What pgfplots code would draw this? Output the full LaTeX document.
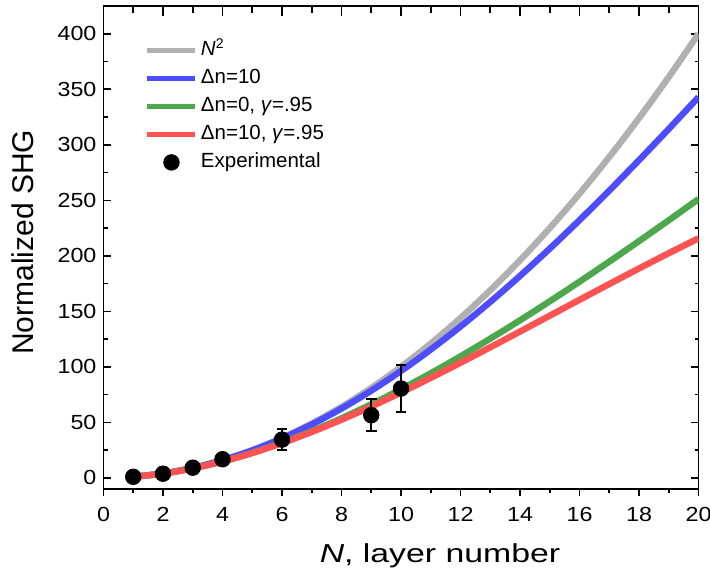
\documentclass[border=0pt]{standalone}
\usepackage{fontspec}
\setmainfont{Liberation Sans}
\newfontfamily\wideticks{Liberation Sans}[FakeStretch=1.14]
\newfontfamily\widelabel{Liberation Sans}[FakeStretch=1.3]
\usepackage{pgfplots}
\pgfplotsset{compat=1.18}
\definecolor{cgrey}{RGB}{176,176,176}
\definecolor{cblue}{RGB}{77,77,255}
\definecolor{cgreen}{RGB}{77,168,77}
\definecolor{cred}{RGB}{255,82,82}
\begin{document}
\begin{tikzpicture}
\begin{axis}[
  scale only axis, width=297.5pt, height=241.5pt,
  xmin=0, xmax=20, ymin=-10, ymax=425,
  xtick={0,2,...,20}, minor x tick num=1,
  ytick={0,50,...,400}, minor y tick num=1,
  xtick pos=lower, xtick align=outside,
  ytick pos=both, ytick align=inside,
  major tick length=3.6pt, minor tick length=2pt,
  axis line style={line width=0.9pt},
  every tick/.style={black, line width=0.8pt},
  /pgf/number format/assume math mode=true,
  tick label style={font=\wideticks\fontsize{10.2}{12}\selectfont},
  xticklabel style={yshift=-2pt},
  xlabel={\textit{N}, layer number},
  xlabel style={font=\widelabel\fontsize{13}{15}\selectfont, at={(axis description cs:0.5655,0)}, anchor=base, yshift=-36.5pt},
  ylabel={Normalized SHG},
  ylabel style={font=\fontsize{15}{18}\selectfont, at={(axis description cs:-0.118,0.511)}, anchor=base, rotate=0},
  legend style={at={(axis description cs:0.069,0.9306)}, anchor=north west, draw=none, fill=none, inner sep=0pt,
    font=\fontsize{10.25}{12}\selectfont, row sep=3.5pt,
    nodes={inner sep=0pt, text height=8pt, text depth=2.5pt},
    /tikz/every odd column/.append style={column sep=1.5pt}},
  legend cell align=left,
]
\addplot[cgrey, line width=3.2pt, smooth,
  legend image code/.code={\draw[cgrey,line width=2.5pt] (0pt,0pt) -- (24pt,0pt);}]
  coordinates {(1,1)(2,4)(3,9)(4,16)(5,25)(6,36)(7,49)(8,64)(9,81)(10,100)
  (11,121)(12,144)(13,169)(14,196)(15,225)(16,256)(17,289)(18,324)(19,361)(20,400)};
\addlegendentry{\textit{N}\textsuperscript{\fontsize{7}{8}\selectfont 2}}
\addplot[cblue, line width=3.2pt, smooth,
  legend image code/.code={\draw[cblue,line width=2.5pt] (0pt,0pt) -- (24pt,0pt);}]
  coordinates {(1,1.000)(2,3.996)(3,8.973)(4,15.909)(5,24.773)(6,35.524)(7,48.114)(8,62.483)(9,78.570)(10,96.298)
  (11,115.587)(12,136.35)(13,158.49)(14,181.91)(15,206.50)(16,232.15)(17,258.75)(18,286.16)(19,314.27)(20,342.95)};
\addlegendentry{Δn=10}
\addplot[cgreen, line width=3.2pt, smooth,
  legend image code/.code={\draw[cgreen,line width=2.5pt] (0pt,0pt) -- (24pt,0pt);}]
  coordinates {(1,1)(2,3.899)(3,8.554)(4,14.827)(5,22.592)(6,31.727)(7,42.120)(8,53.666)(9,66.263)(10,79.817)
  (11,94.242)(12,109.453)(13,125.375)(14,141.933)(15,159.060)(16,176.691)(17,194.769)(18,213.234)(19,232.039)(20,251.129)};
\addlegendentry{Δn=0, \textit{γ}=.95}
\addplot[cred, line width=3.2pt, smooth,
  legend image code/.code={\draw[cred,line width=2.5pt] (0pt,0pt) -- (24pt,0pt);}]
  coordinates {(1,1)(2,3.895)(3,8.528)(4,14.743)(5,22.387)(6,31.310)(7,41.361)(8,52.40)(9,64.282)(10,76.875)
  (11,90.046)(12,103.67)(13,117.63)(14,131.80)(15,146.08)(16,160.37)(17,174.58)(18,188.60)(19,202.36)(20,215.78)};
\addlegendentry{Δn=10, \textit{γ}=.95}
\addplot[black, only marks, mark=*, mark size=3.9pt,
  error bars/.cd, y dir=both, y explicit,
  error bar style={line width=1pt, black},
  error mark options={rotate=90, mark size=2.7pt, line width=1pt, black}]
  [legend image code/.code={\fill[black] (12pt,0pt) circle (3.9pt);}]
  coordinates {(1,1) +- (0,0) (2,3.8) +- (0,0) (3,9.2) +- (0,0) (4,16.8) +- (0,0)
  (6,34.5) +- (0,9.5) (9,56.5) +- (0,14.7) (10,80.5) +- (0,21.3)};
\addlegendentry{Experimental}
\end{axis}
\begin{axis}[
  scale only axis, width=297.5pt, height=241.5pt,
  xmin=0, xmax=20, ymin=-10, ymax=425,
  xtick={0,2,...,20}, minor x tick num=1, xticklabels={},
  xtick pos=upper, xtick align=inside, ytick=\empty,
  major tick length=5pt, minor tick length=3.3pt,
  axis line style={draw=none},
  every tick/.style={black, line width=0.8pt},
]
\end{axis}
\pgfresetboundingbox
\useasboundingbox (-51.75pt,-39pt) rectangle (303.25pt,244.5pt);
\end{tikzpicture}
\end{document}
